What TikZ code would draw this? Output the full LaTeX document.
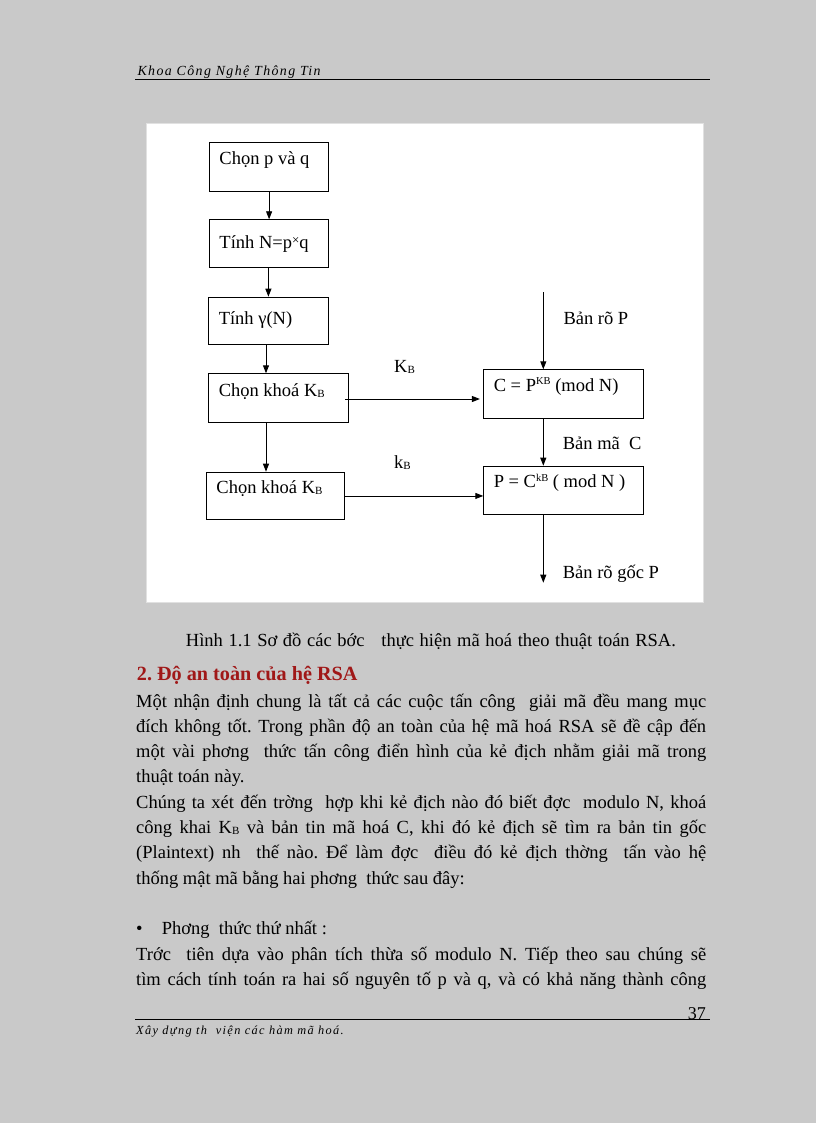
\documentclass[tikz,border=0pt]{standalone}
\usepackage{fontspec}
\setmainfont{Liberation Serif}
\usetikzlibrary{arrows.meta}
\definecolor{pagebg}{RGB}{201,201,201}
\definecolor{headred}{RGB}{160,24,24}
\definecolor{panelrim}{RGB}{225,225,225}
\newcommand{\sbB}{\raisebox{-1pt}{\fontsize{11}{11}\selectfont B}}
\newcommand{\sups}[1]{\raisebox{6.5pt}{\fontsize{10.5}{10.5}\selectfont #1}}
\newcommand{\jline}[1]{\makebox[570pt][s]{#1}}
\frenchspacing
\begin{document}
\begin{tikzpicture}[x=1pt,y=-1pt,
  chartfont/.style={font=\fontsize{18.5}{22}\selectfont},
  flowbox/.style n args={2}{draw, line width=0.9pt, inner xsep=10pt, inner ysep=0pt,
     anchor=north west, text height=#1, text depth=#2, chartfont},
  arr/.style={line width=0.9pt, -{Triangle[length=8pt,width=6pt]}},
  lbl/.style={chartfont, anchor=base west, inner sep=0pt},
  bodytext/.style={font=\fontsize{18.5}{22}\selectfont, anchor=base west, inner sep=0pt},
  rule/.style={line width=1.2pt},
]
\useasboundingbox (0,0) rectangle (816,1123);
\fill[pagebg] (0,0) rectangle (816,1123);

% header
\node[anchor=base west, inner sep=0pt,
  font=\itshape\fontsize{13.9}{16}\selectfont\addfontfeatures{LetterSpace=10}] (hdr) at (137.3,75.7) {Khoa Công Nghệ Thông Tin};
\draw[rule] (135,79.5) -- (710,79.5);

% figure panel
\filldraw[fill=white, draw=panelrim, line width=1pt] (146.7,123.3) rectangle (703.3,602.7);

% boxes
\node[flowbox={22pt}{26.4pt}] (b1) at (209,142.3) {\makebox[99.3pt][l]{Chọn p và q}};
\node[flowbox={29pt}{19pt}] (b2) at (209,219.3) {\makebox[99.3pt][l]{Tính N=p\raisebox{4pt}{\fontsize{13}{13}\selectfont ×}q}};
\node[flowbox={27pt}{20.6pt}] (b3) at (208.3,296.7) {\makebox[100pt][l]{Tính γ(N)}};
\node[flowbox={22.7pt}{25.7pt}] (b4) at (208.3,373.3) {\makebox[119.4pt][l]{Chọn khoá K\sbB}};
\node[flowbox={21.7pt}{25.9pt}] (b5) at (206,471.7) {\makebox[118.3pt][l]{Chọn khoá K\sbB}};
\node[flowbox={21.7pt}{26.7pt}] (bc) at (483.3,369.3) {\makebox[139.4pt][l]{C = P\sups{KB} (mod N)}};
\node[flowbox={21.7pt}{26.3pt}] (bp) at (483.3,465.7) {\makebox[139.4pt][l]{P = C\sups{kB} ( mod N )}};

\coordinate (inP) at (543.3,292.3);
\coordinate (outP) at (543.3,582.7);

% connectors
\draw[arr] (b1.south) -- (b2.north);
\draw[arr] ([xshift=-0.7pt]b2.south) -- ([xshift=-0.7pt]b2.south |- b3.north);
\draw[arr] ([xshift=57.7pt]b3.south west) -- ([xshift=57.7pt]b3.south west |- b4.north);
\draw[arr] ([xshift=57.7pt]b4.south west) -- ([xshift=57.7pt]b4.south west |- b5.north);
\draw[arr] ([xshift=-3.4pt,yshift=-25.7pt]b4.north east) -- ([xshift=-3.4pt,yshift=-25.7pt]b4.north east -| bc.west);
\draw[arr] (b5.east) -- (b5.east -| bp.west);
\draw[arr] (inP) -- (inP |- bc.north);
\draw[arr] ([xshift=60pt]bc.south west) -- ([xshift=60pt]bp.north west);
\draw[arr] ([xshift=60pt]bp.south west) -- (outP);

% labels
\node[lbl] (lP) at (563.3,324.3) {Bản rõ P};
\node[lbl] (lC) at (562.7,449.3) {Bản mã\ \ C};
\node[lbl] (lG) at (562.7,578.3) {Bản rõ gốc P};
\node[lbl] (lK) at (394,372.7) {K\sbB};
\node[lbl] (lk) at (394,468.3) {k\sbB};

% caption and heading
\node[bodytext] (cap) at (185.7,646.7) {\makebox[490pt][s]{Hình 1.1 Sơ đồ các bớc\ \ \ thực hiện mã hoá theo thuật toán RSA.}};
\node[anchor=base west, inner sep=0pt, text=headred, font=\bfseries\fontsize{20.2}{24}\selectfont] (head) at (136.7,680) {2. Độ an toàn của hệ RSA};

% body
\node[bodytext] (t1) at (136,707) {\jline{Một nhận định chung là tất cả các cuộc tấn công\ \ giải mã đều mang mục}};
\node[bodytext] (t2) at (136,732.3) {\jline{đích không tốt. Trong phần độ an toàn của hệ mã hoá RSA sẽ đề cập đến}};
\node[bodytext] (t3) at (136,757.6) {\jline{một vài phơng\ \ thức tấn công điển hình của kẻ địch nhằm giải mã trong}};
\node[bodytext] (t4) at (136,782.9) {thuật toán này.};
\node[bodytext] (t5) at (136,808.2) {\jline{Chúng ta xét đến trờng\ \ hợp khi kẻ địch nào đó biết đợc\ \ modulo N, khoá}};
\node[bodytext] (t6) at (136,833.5) {\jline{công khai K\sbB\ và bản tin mã hoá C, khi đó kẻ địch sẽ tìm ra bản tin gốc}};
\node[bodytext] (t7) at (136,858.8) {\jline{(Plaintext) nh\ \ thế nào. Để làm đợc\ \ điều đó kẻ địch thờng\ \ tấn vào hệ}};
\node[bodytext] (t8) at (136,884.1) {thống mật mã bằng hai phơng\ \ thức sau đây:};
\node[bodytext] (t9) at (136,934.7) {\makebox[25.7pt][l]{•}Phơng\ \ thức thứ nhất :};
\node[bodytext] (t10) at (136,960) {\jline{Trớc\ \ tiên dựa vào phân tích thừa số modulo N. Tiếp theo sau chúng sẽ}};
\node[bodytext] (t11) at (136,985.3) {\jline{tìm cách tính toán ra hai số nguyên tố p và q, và có khả năng thành công}};

% footer
\draw[line width=1pt] (135,1019.5) -- (710,1019.5);
\node[anchor=base east, inner sep=0pt, font=\fontsize{18}{20}\selectfont] (pg) at (706,1019.5) {37};
\node[anchor=base west, inner sep=0pt,
  font=\itshape\fontsize{12.3}{14}\selectfont\addfontfeatures{LetterSpace=11}] (ftr) at (136,1034) {Xây dựng th\ \ viện các hàm mã hoá.};
\end{tikzpicture}
\end{document}
